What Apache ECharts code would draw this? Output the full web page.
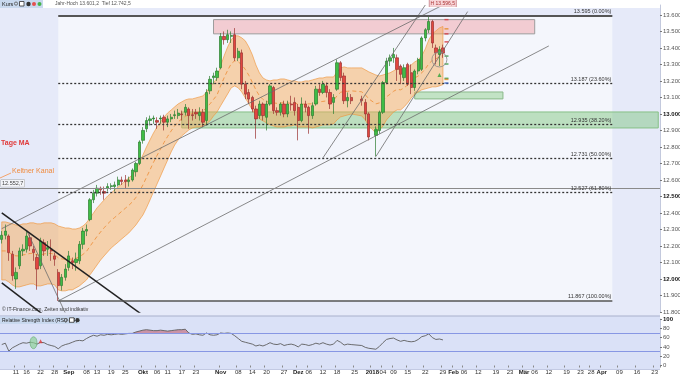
<!DOCTYPE html>
<html>
<head>
<meta charset="utf-8">
<title>DAX Tageschart</title>
<script src="https://cdn.jsdelivr.net/npm/echarts@6.0.0/dist/echarts.min.js"></script>
<style>
    html, body { margin: 0; padding: 0; background: #fff; }
    #dax-chart { width: 680px; height: 377px; }
</style>
</head>
<body>
<div id="dax-chart"></div>
<script>
/* Handelstage Mo-Fr vom 07.08.2017 bis 24.04.2018 (rechts leerer Zukunftsbereich) */
let dates = [];
for (let d = new Date(Date.UTC(2017, 7, 7)); d <= new Date(Date.UTC(2018, 3, 24)); d.setUTCDate(d.getUTCDate() + 1)) {
    let wd = d.getUTCDay();
    if (wd != 0 && wd != 6) dates.push(d.toISOString().slice(0, 10));
}

/* Kerzen [open, close, low, high], null = Feiertag */
const candles = [
    // Aug
    [12240,12265,12215,12290],[12265,12290,12240,12330],[12260,12160,12110,12270],[12150,12020,11990,12170],
    [12000,12040,11940,12070],[12080,12170,12060,12190],[12170,12180,12140,12210],[12180,12260,12160,12290],
    [12250,12200,12170,12270],[12180,12160,12110,12200],[12130,12060,11935,12150],[12080,12230,12060,12250],
    [12220,12170,12140,12240],[12180,12190,12140,12230],[12180,12170,12110,12240],[12140,12120,12080,12160],
    [12040,11960,11867,12060],[11960,12010,11930,12030],[12010,12060,11990,12090],
    // Sep
    [12070,12140,12050,12170],[12110,12100,12060,12130],[12100,12120,12050,12160],[12110,12210,12090,12230],
    [12210,12290,12180,12310],[12290,12300,12260,12330],[12360,12480,12350,12490],[12480,12520,12460,12540],
    [12520,12550,12500,12570],[12550,12540,12510,12560],[12530,12520,12480,12560],[12550,12560,12530,12580],
    [12560,12565,12540,12580],[12560,12570,12530,12590],[12570,12600,12560,12620],[12600,12590,12570,12620],
    [12600,12590,12550,12630],[12590,12600,12560,12620],[12600,12660,12590,12670],[12650,12700,12620,12710],
    [12700,12830,12690,12840],
    // Okt
    [12840,12900,12820,12920],[12910,12960,12890,12980],[12960,12970,12930,12990],[12970,12975,12940,12990],
    [12960,12950,12910,12980],[12970,12975,12940,12990],[12980,12950,12900,12995],[12950,12970,12920,12990],
    [12970,12980,12950,13000],[12990,12995,12970,13020],[12990,13005,12970,13030],[13000,12995,12960,13020],
    [13010,13040,12990,13060],[13030,12990,12910,13040],[12995,12990,12960,13030],[13010,13000,12970,13030],
    [12990,13010,12960,13040],[13010,12950,12920,13030],[12960,13130,12930,13150],[13140,13210,13120,13230],
    [13220,13230,13180,13250],[13220,13260,13200,13280],
    // Nov
    [13280,13470,13270,13490],[13470,13450,13420,13500],[13450,13480,13430,13510],[13470,13475,13430,13500],
    [13480,13340,13320,13520],[13340,13380,13320,13400],[13370,13180,13150,13390],[13180,13120,13090,13200],
    [13130,13090,13060,13150],[13100,13030,13010,13110],[13030,12970,12850,13050],[12990,13060,12970,13080],
    [13060,12990,12960,13070],[12980,13060,12900,13080],[13060,13170,13050,13180],[13160,13020,13000,13170],
    [13020,13010,12990,13040],[13010,13060,12990,13070],[13060,13000,12980,13080],[13000,13060,12980,13080],
    [13060,13055,13020,13110],[13070,13020,12990,13100],
    // Dez
    [13040,12960,12840,13060],[12960,13060,12950,13100],[13060,13040,13010,13080],[13040,12990,12880,13050],
    [12990,13050,12970,13070],[13060,13150,13050,13170],[13150,13130,13110,13180],[13130,13180,13120,13200],
    [13170,13130,13100,13190],[13130,13060,13030,13150],[13070,13100,13000,13120],[13150,13310,13140,13330],
    [13310,13220,13200,13320],[13230,13080,13060,13250],[13080,13100,13040,13130],[13100,13080,13060,13120],
    null, null,
    [13090,13080,13050,13110],[13070,13000,12960,13090],[13000,12860,12840,13010],
    // Jan
    null,
    [12870,12905,12742,12925],[12900,13010,12880,13020],[13010,13190,13000,13200],[13190,13320,13180,13340],
    [13320,13340,13290,13360],[13340,13360,13310,13400],[13340,13270,13200,13360],[13290,13240,13180,13300],
    [13220,13280,13200,13300],[13300,13180,13170,13310],[13250,13160,13120,13300],[13160,13260,13140,13270],
    [13260,13330,13240,13340],[13270,13460,13260,13470],[13460,13510,13440,13520],[13510,13560,13490,13597],
    [13560,13430,13400,13570],[13400,13370,13300,13420],[13360,13390,13290,13410],[13400,13368.6,13340,13420]
];

/* Keltner Kanal (oben / Mitte / unten) */
const kcUpper = [
    12346,12346,12340,12334,12327,12327,12334,12334,12340,12340,12334,12334,12340,12340,12340,12334,
    12321,12315,12309,12309,12303,12303,12309,12321,12340,
    12370,12400,12431,12455,12479,12503,12521,12540,12558,12576,12594,12612,12630,12661,12703,
    12752,12800,12843,12885,12921,12952,12982,13006,13024,13043,13061,13073,13085,13091,13091,
    13097,13103,13109,13133,13164,13188,13218,13291,13352,13406,13449,13473,13473,13461,13443,
    13406,13358,13297,13249,13218,13206,13200,13206,13206,13212,13212,13206,13200,13200,13194,
    13194,13200,13200,13206,13212,13218,13218,13224,13224,13224,13255,13279,13285,13279,13279,
    null,null,13279,13267,13255,null,13236,13230,13236,13243,13249,13261,13273,
    13267,13273,13285,13297,13315,13327,13352,13394,13449,13485,13503,13521,13530
];
const kcMid = [
    12170,12170,12161,12149,12140,12140,12146,12149,12155,12155,12146,12146,12152,12155,12155,12149,
    12128,12122,12119,12122,12119,12125,12134,12149,12167,
    12198,12228,12258,12285,12310,12334,12355,12373,12391,12410,12428,12446,12467,12494,12531,
    12570,12616,12661,12707,12749,12788,12828,12864,12897,12928,12952,12970,12985,12997,13003,
    13009,13012,13018,13037,13061,13088,13115,13170,13219,13264,13304,13322,13316,13297,13270,
    13234,13191,13146,13110,13088,13076,13067,13067,13064,13067,13067,13067,13064,13067,13058,
    13058,13061,13061,13061,13067,13073,13076,13079,13079,13082,13110,13131,13137,13137,13140,
    null,null,13134,13116,13091,null,13061,13067,13082,13104,13119,13137,13149,
    13146,13158,13176,13197,13218,13230,13249,13273,13304,13325,13334,13346,13354
];
const kcLower = [
    11994,11994,11982,11964,11952,11952,11958,11964,11970,11970,11958,11958,11964,11970,11970,11964,
    11934,11928,11928,11934,11934,11946,11958,11976,11994,
    12025,12055,12085,12115,12140,12164,12188,12206,12224,12243,12261,12279,12303,12327,12358,
    12388,12431,12479,12528,12576,12624,12673,12721,12770,12812,12843,12867,12885,12903,12915,
    12921,12921,12927,12940,12958,12988,13012,13049,13085,13121,13158,13170,13158,13133,13097,
    13061,13024,12994,12970,12958,12946,12934,12927,12921,12921,12921,12927,12927,12934,12921,
    12921,12921,12921,12915,12921,12927,12934,12934,12934,12940,12964,12982,12988,12994,13000,
    null,null,12988,12964,12927,null,12885,12903,12927,12964,12988,13012,13024,
    13024,13043,13067,13097,13121,13133,13146,13152,13158,13164,13164,13170,13178
];

/* RSI (14) */
const rsi = [
    45,48,31,38,42,46,49,48,50,49,46,50,49,45,43,41,36,42,45,
    47,50,53,54,53,58,62,65,63,66,65,67,66,67,68,67,68,69,69,72,74,
    76,77,76,75,75,76,75,74,75,76,77,77,78,70,67,68,66,65,70,66,65,66,
    70,69,70,69,64,58,52,50,48,46,42,44,42,45,49,46,45,47,43,45,46,44,
    40,46,45,43,45,48,46,49,46,44,46,54,50,44,46,45,null,null,43,39,37,
    null,35,41,49,56,58,59,55,52,54,52,51,52,56,62,64,68,60,56,57,55
];
const rsiLast = 55.252;

/* Fibonacci-Retracement 11.867 -> 13.595 */
const fibLevels = [13595, 13187, 12935, 12731, 12527, 11867];
const fibNames = ['0.00%', '23.60%', '38.20%', '50.00%', '61.80%', '100.00%'];
const fibFrom = '2017-08-29';
const fibTo = '2018-04-05';

/* Kursmarken rechts (Pivot-Punkte, aktueller Kurs) */
const tagValues = [13571.4, 13515.6, 13485.2, 13436.7, 13368.6, 13350.5, 13302.5, 13215.6, 13209.3, 13187.2];
const tagKinds = ['r', 'o', 'r', 'r', 'cur', 'g', 'g', 'g', 'o', 'b'];

/* Zonen [von, bis, unten, oben] */
const zonePink = ['2017-10-30', '2018-03-06', 13485.2, 13571.4];
const zoneGreenSmall = ['2018-01-17', '2018-02-21', 13091, 13133];
const zoneGreenBig = ['2017-10-17', '2018-04-24', 12915, 13012];
const hLine = 12552.7;

/* Trendlinien [Startdatum, Startkurs, Enddatum, Endkurs] */
const trendThin = [
    ['2017-08-07', 12305, '2018-01-29', 13660],
    ['2017-08-29', 11867, '2018-03-12', 13412],
    ['2017-12-12', 12734, '2018-01-22', 13660],
    ['2018-01-02', 12742, '2018-02-07', 13620],
    ['2017-08-16', 12297, '2017-08-31', 11794]
];
const trendThick = [
    ['2017-08-07', 12400, '2017-10-02', 11780],
    ['2017-08-07', 11976, '2017-08-23', 11780]
];

/* Achsenbeschriftung unten */
const tickDates = ['2017-08-11','2017-08-16','2017-08-22','2017-08-28','2017-09-01','2017-09-08','2017-09-13','2017-09-19',
    '2017-09-25','2017-10-02','2017-10-06','2017-10-11','2017-10-17','2017-10-23','2017-11-01','2017-11-08','2017-11-14',
    '2017-11-20','2017-11-27','2017-12-01','2017-12-06','2017-12-12','2017-12-18','2017-12-25','2018-01-01','2018-01-04',
    '2018-01-09','2018-01-15','2018-01-22','2018-01-29','2018-02-01','2018-02-06','2018-02-12','2018-02-19','2018-02-23',
    '2018-03-01','2018-03-06','2018-03-12','2018-03-19','2018-03-23','2018-03-28','2018-04-02','2018-04-09','2018-04-16','2018-04-23'];
const monthNames = { '2017-09-01': 'Sep', '2017-10-02': 'Okt', '2017-11-01': 'Nov', '2017-12-01': 'Dez',
    '2018-01-01': '2018', '2018-02-01': 'Feb', '2018-03-01': 'Mär', '2018-04-02': 'Apr' };
const boldLevels = [12000, 12500, 13000];

const FONT = 'Liberation Sans';

// deutsche Zahlenformatierung 13.571,4
function fmtDe(v, dec) {
    let parts = v.toFixed(dec).split('.');
    let i = parts[0].replace(/\B(?=(\d{3})+(?!\d))/g, '.');
    return parts[1] ? i + ',' + parts[1] : i;
}

// [Datum, Wert]-Paare ohne Feiertage
function pairs(arr) {
    let out = [];
    arr.forEach((v, i) => { if (v != null) out.push([dates[i], v]); });
    return out;
}

const tagStyle = {
    r:   { text: '#d8343c', bg: '#fff1f1', border: '#e58a8f' },
    o:   { text: '#e48a21', bg: '#fff6ea', border: '#edb46d' },
    g:   { text: '#2f9a3a', bg: '#eef9ee', border: '#86c88c' },
    b:   { text: '#3561c8', bg: '#eef2fd', border: '#8aa2e0' },
    cur: { text: '#000', bg: '#ecc21b', border: '#b89400' }
};
const tagDy = [0, 0, 0, 0, -2, 0, 0, -3, 1, 3];

var daxChart = echarts.init(document.getElementById('dax-chart'), null, { renderer: 'canvas' });

let fibMarkLines = fibLevels.map((v, i) => {
    let solid = (i == 0 || i == fibLevels.length - 1);
    return [
        {
            coord: [fibFrom, v],
            lineStyle: solid ? { color: '#555', width: i == 0 ? 2 : 1.5, type: 'solid' }
                             : { color: '#333', width: 1.3, type: [2, 2] },
            label: {
                show: true, position: 'insideEndTop', distance: 1,
                formatter: fmtDe(v, 0) + ' (' + fibNames[i] + ')',
                fontSize: 5.5, color: '#333', fontFamily: FONT
            }
        },
        { coord: [fibTo, v] }
    ];
});

let tagMarkLines = tagValues.map((v, i) => {
    let s = tagStyle[tagKinds[i]];
    return {
        yAxis: v,
        lineStyle: { opacity: 0 },
        label: {
            show: true, position: 'end', distance: 2,
            formatter: fmtDe(v, 1), fontSize: 5.5, fontFamily: FONT,
            fontWeight: tagKinds[i] == 'cur' ? 'bold' : 'normal',
            color: s.text, backgroundColor: s.bg, borderColor: s.border, borderWidth: 0.6,
            padding: [1, 1, 0, 1], offset: [0, tagDy[i]]
        }
    };
});

function zoneArea(z, fill, border) {
    return [
        { coord: [z[0], z[3]], itemStyle: { color: fill, borderColor: border, borderWidth: 1 } },
        { coord: [z[1], z[2]] }
    ];
}

let trendSeries = [];
trendThin.forEach(t => trendSeries.push({
    type: 'line', xAxisIndex: 0, yAxisIndex: 0, data: [[t[0], t[1]], [t[2], t[3]]],
    symbol: 'none', silent: true, z: 4, lineStyle: { color: '#6c6c6c', width: 0.8 }
}));
trendThick.forEach(t => trendSeries.push({
    type: 'line', xAxisIndex: 0, yAxisIndex: 0, data: [[t[0], t[1]], [t[2], t[3]]],
    symbol: 'none', silent: true, z: 4, lineStyle: { color: '#222', width: 1.5 }
}));

let pivotMarks = [];
tagValues.forEach((v, i) => {
    if (tagKinds[i] == 'cur') return;
    pivotMarks.push({ value: ['2018-01-30', v], itemStyle: { color: tagStyle[tagKinds[i]].text } });
});

// Feiertage als leere Kerzen
let candleData = candles.map(c => c == null ? ['-', '-', '-', '-'] : c);

let option = {
    animation: false,
    textStyle: { fontFamily: FONT },
    grid: [
        { left: 0, right: 20, top: 5, height: 307, containLabel: false, outerBoundsMode: 'none' },
        { left: 0, right: 20, top: 319, height: 46.5, containLabel: false, outerBoundsMode: 'none' }
    ],
    xAxis: [
        { type: 'category', gridIndex: 0, data: dates, show: false },
        {
            type: 'category', gridIndex: 1, data: dates,
            axisLine: { show: false },
            axisTick: { show: true, length: 2, lineStyle: { color: '#888' }, interval: (i, v) => tickDates.includes(v) },
            axisLabel: {
                interval: (i, v) => tickDates.includes(v),
                fontSize: 6, color: '#333', margin: 4,
                formatter: v => monthNames[v] ? '{b|' + monthNames[v] + '}' : v.slice(8, 10),
                rich: { b: { fontSize: 6, fontWeight: 'bold', color: '#222' } }
            }
        }
    ],
    yAxis: [
        {
            type: 'value', gridIndex: 0, position: 'right',
            min: 11800, max: 13660, interval: 100,
            splitLine: { show: false },
            axisLine: { show: true, lineStyle: { color: '#c3c9dd' } },
            axisTick: { show: true, length: 2, lineStyle: { color: '#777' } },
            axisLabel: {
                showMaxLabel: false, fontSize: 6, color: '#555', margin: 3,
                formatter: v => boldLevels.includes(v) ? '{b|' + fmtDe(v, 0) + '}' : fmtDe(v, 0),
                rich: { b: { fontSize: 6, fontWeight: 'bold', color: '#111' } }
            }
        },
        {
            type: 'value', gridIndex: 1, position: 'right',
            min: 0, max: 100, interval: 20,
            splitLine: { show: false },
            axisLine: { show: true, lineStyle: { color: '#c3c9dd' } },
            axisTick: { show: true, length: 2, lineStyle: { color: '#777' } },
            axisLabel: {
                fontSize: 6, color: '#555', margin: 3,
                formatter: v => v == 100 ? '{b|100}' : String(v),
                rich: { b: { fontSize: 6, fontWeight: 'bold', color: '#111' } }
            }
        }
    ],
    graphic: [
        { type: 'rect', z: -20, silent: true, shape: { x: 0, y: 8, width: 660, height: 308 }, style: { fill: '#e6eaf9' } },
        { type: 'rect', z: -20, silent: true, shape: { x: 0, y: 316, width: 660, height: 53 }, style: { fill: '#dae1f7' } },
        { type: 'line', z: -19, silent: true, shape: { x1: 0, y1: 316, x2: 660, y2: 316 }, style: { stroke: '#a9b1cc', lineWidth: 1 } },
        { type: 'line', z: -19, silent: true, shape: { x1: 0, y1: 369.5, x2: 660, y2: 369.5 }, style: { stroke: '#c3cae3', lineWidth: 1 } },
        // Kopfzeile
        { type: 'rect', silent: true, shape: { x: 0, y: 0, width: 43, height: 8 }, style: { fill: '#c9d9ef' } },
        { type: 'text', silent: true, x: 2, y: 4, style: { text: 'Kurs', fontSize: 5.5, fill: '#222', fontFamily: FONT, verticalAlign: 'middle' } },
        { type: 'circle', silent: true, shape: { cx: 16, cy: 3.6, r: 1.6 }, style: { fill: 'none', stroke: '#555', lineWidth: 0.8 } },
        { type: 'rect', silent: true, shape: { x: 19.5, y: 1.5, width: 4.5, height: 4.5 }, style: { fill: '#fff', stroke: '#333', lineWidth: 0.8 } },
        { type: 'circle', silent: true, shape: { cx: 28.5, cy: 4, r: 2.2 }, style: { fill: '#333' } },
        { type: 'circle', silent: true, shape: { cx: 34, cy: 4, r: 2 }, style: { fill: '#e45050' } },
        { type: 'circle', silent: true, shape: { cx: 39.5, cy: 4, r: 2 }, style: { fill: '#45b34c' } },
        { type: 'text', silent: true, x: 55, y: 4, style: { text: 'Jahr-Hoch 13.601,2  Tief 12.742,5', fontSize: 5, fill: '#555', fontFamily: FONT, verticalAlign: 'middle' } },
        // Beschriftungen links
        { type: 'text', silent: true, x: 1, y: 143, style: { text: 'Tage MA', fontSize: 7, fontWeight: 'bold', fill: '#e03a3a', fontFamily: FONT, verticalAlign: 'middle' } },
        { type: 'text', silent: true, x: 12, y: 171, style: { text: 'Keltner Kanal', fontSize: 7, fill: '#f08a3c', fontFamily: FONT, verticalAlign: 'middle' } },
        { type: 'line', silent: true, shape: { x1: 0, y1: 178, x2: 11, y2: 173 }, style: { stroke: '#f3a46b', lineWidth: 1 } },
        { type: 'text', silent: true, x: 2, y: 310, style: { text: '© IT-Finance.com, Zeiten sind indikativ', fontSize: 5, fill: '#333', fontFamily: FONT, verticalAlign: 'middle' } },
        // RSI Kopf
        { type: 'rect', silent: true, shape: { x: 0, y: 316.5, width: 80, height: 7.5 }, style: { fill: '#c9d9ef' } },
        { type: 'text', silent: true, x: 2, y: 320.3, style: { text: 'Relative Strength Index (RSI) (14)', fontSize: 5, fill: '#222', fontFamily: FONT, verticalAlign: 'middle' } },
        { type: 'circle', silent: true, shape: { cx: 66, cy: 320, r: 1.6 }, style: { fill: 'none', stroke: '#555', lineWidth: 0.8 } },
        { type: 'rect', silent: true, shape: { x: 69.5, y: 317.8, width: 4.5, height: 4.5 }, style: { fill: '#fff', stroke: '#333', lineWidth: 0.8 } },
        { type: 'circle', silent: true, shape: { cx: 77.5, cy: 320.2, r: 2.1 }, style: { fill: '#333' } }
    ],
    series: [
        {
            // Fibonacci-Bereich heller hinterlegt
            name: 'Fib Bereich', type: 'line', xAxisIndex: 0, yAxisIndex: 0, data: [], silent: true, z: 0,
            markArea: {
                silent: true,
                data: [[
                    { coord: [fibFrom, fibLevels[0]], itemStyle: { color: 'rgba(255,255,255,0.55)' } },
                    { coord: [fibTo, fibLevels[5]] }
                ]]
            }
        },
        {
            // Keltner Band als Flaeche zwischen oberem und unterem Band
            name: 'KC Band', type: 'custom', xAxisIndex: 0, yAxisIndex: 0, data: [0], silent: true, z: 1,
            renderItem: function (params, api) {
                let up = [], lo = [];
                kcUpper.forEach((v, i) => {
                    if (v == null) return;
                    up.push(api.coord([i, v]));
                    lo.push(api.coord([i, kcLower[i]]));
                });
                return {
                    type: 'polygon',
                    shape: { points: up.concat(lo.reverse()) },
                    style: { fill: 'rgba(246,172,92,0.5)', stroke: 'rgba(240,150,60,0.8)', lineWidth: 0.8 }
                };
            }
        },
        {
            name: 'KC Mitte', type: 'line', xAxisIndex: 0, yAxisIndex: 0, data: pairs(kcMid),
            symbol: 'none', silent: true, z: 1,
            lineStyle: { color: '#f09a4c', width: 1, type: [4, 3] }
        },
        {
            name: 'Kurs', type: 'candlestick', xAxisIndex: 0, yAxisIndex: 0, data: candleData,
            barWidth: 2.8, z: 3,
            itemStyle: { color: '#3fbd45', color0: '#e2463f', borderColor: '#2c7d30', borderColor0: '#9a3030', borderWidth: 0.7 },
            markArea: {
                silent: true,
                data: [
                    zoneArea(zonePink, 'rgba(241,190,196,0.75)', '#9c9c9c'),
                    zoneArea(zoneGreenSmall, 'rgba(160,215,160,0.6)', '#8ab98a'),
                    zoneArea(zoneGreenBig, 'rgba(120,195,120,0.45)', '#86c086')
                ]
            },
            markLine: {
                silent: true, symbol: ['none', 'none'], animation: false,
                data: [
                    ...fibMarkLines,
                    {
                        yAxis: hLine, lineStyle: { color: '#8a8a8a', width: 1, type: 'solid' },
                        label: {
                            show: true, position: 'insideStartTop', distance: 1, formatter: fmtDe(hLine, 1),
                            fontSize: 5.5, color: '#444', backgroundColor: '#f3f4f8', borderColor: '#aaa', borderWidth: 0.5, padding: [1, 1, 0, 1]
                        }
                    },
                    ...tagMarkLines
                ]
            },
            markPoint: {
                silent: true,
                data: [{
                    coord: ['2018-01-23', 13597], symbol: 'rect', symbolSize: [27, 7], symbolOffset: [14, -12],
                    itemStyle: { color: '#f8d6d9', borderColor: '#d7a0a6', borderWidth: 0.6 },
                    label: { show: true, formatter: 'H 13.596,5', fontSize: 5, color: '#a33' }
                }]
            }
        },
        ...trendSeries,
        {
            name: 'Pivots', type: 'scatter', xAxisIndex: 0, yAxisIndex: 0, data: pivotMarks,
            symbol: 'rect', symbolSize: [4, 1.5], silent: true, z: 5
        },
        {
            name: 'Signale', type: 'scatter', xAxisIndex: 0, yAxisIndex: 0, silent: true, z: 5,
            data: [
                { value: ['2018-01-26', 13330], symbol: 'circle', symbolSize: 15, itemStyle: { color: 'rgba(0,0,0,0)', borderColor: '#8a8a8a', borderWidth: 1 } },
                { value: ['2018-01-26', 13236], symbol: 'triangle', symbolSize: 4, itemStyle: { color: '#2fa33a' } },
                { value: ['2018-01-02', 12905], symbol: 'triangle', symbolSize: 4, itemStyle: { color: '#2fa33a' } }
            ]
        },
        // RSI
        {
            // Flaeche oberhalb 70
            name: 'RSI > 70', type: 'custom', xAxisIndex: 1, yAxisIndex: 1, data: [0], silent: true, z: 2,
            renderItem: function (params, api) {
                let top = [], first = null, last = null;
                rsi.forEach((v, i) => {
                    if (v == null) return;
                    if (first == null) first = i;
                    last = i;
                    top.push(api.coord([i, Math.max(v, 70)]));
                });
                top.push(api.coord([last, 70]));
                top.push(api.coord([first, 70]));
                return { type: 'polygon', shape: { points: top }, style: { fill: 'rgba(196,120,140,0.75)' } };
            }
        },
        {
            name: 'RSI', type: 'line', xAxisIndex: 1, yAxisIndex: 1, data: pairs(rsi),
            symbol: 'none', silent: true, z: 4,
            lineStyle: { color: '#5e5e5e', width: 0.9 },
            markLine: {
                silent: true, symbol: ['none', 'none'],
                data: [
                    { yAxis: 70, lineStyle: { color: '#8797e4', width: 1, type: 'solid' }, label: { show: false } },
                    { yAxis: 30, lineStyle: { color: '#8797e4', width: 1, type: 'solid' }, label: { show: false } },
                    {
                        yAxis: rsiLast, lineStyle: { opacity: 0 },
                        label: {
                            show: true, position: 'end', distance: 2, formatter: fmtDe(rsiLast, 3), fontSize: 5.5,
                            color: '#333', backgroundColor: '#eef0f6', borderColor: '#aaa', borderWidth: 0.5, padding: [1, 1, 0, 1]
                        }
                    }
                ]
            }
        },
        {
            name: 'RSI Marker', type: 'scatter', xAxisIndex: 1, yAxisIndex: 1, silent: true, z: 5,
            data: [
                { value: ['2017-08-18', 49], symbol: 'circle', symbolSize: [7, 12], itemStyle: { color: 'rgba(140,208,150,0.85)', borderColor: '#4f9e5a', borderWidth: 0.6 } },
                { value: ['2017-08-22', 52], symbol: 'triangle', symbolSize: 4, itemStyle: { color: '#e03a3a' } }
            ]
        }
    ]
};
daxChart.setOption(option);
</script>
</body>
</html>
